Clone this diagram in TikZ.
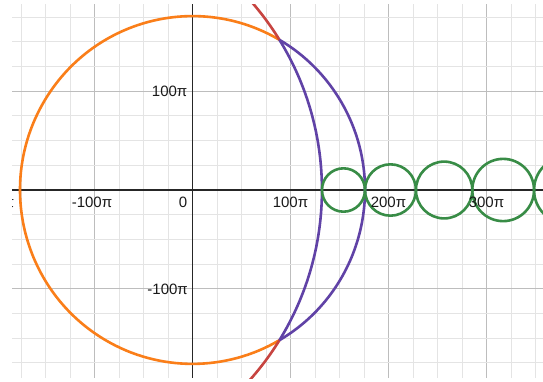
\documentclass[tikz,border=0pt]{standalone}
\usepackage{fontspec}
\setmainfont{Liberation Sans}
\definecolor{dorange}{HTML}{FA7E19}
\definecolor{dpurple}{HTML}{6042A6}
\definecolor{dred}{HTML}{C74440}
\definecolor{dgreen}{HTML}{388C46}
\definecolor{gminor}{HTML}{E4E4E4}
\definecolor{gmajor}{HTML}{BDBDBD}
\tikzset{
  minorline/.style={draw=gminor, line width=1pt},
  majorline/.style={draw=gmajor, line width=1.3pt},
  axisline/.style={draw=black!85, line width=1.5pt},
  curve/.style={line width=2.6pt},
  lbl/.style={inner sep=0pt, font=\fontsize{15}{18}\selectfont, text=black!90},
}
\begin{document}
\begin{tikzpicture}[x=1pt,y=-1pt]
\useasboundingbox (0,0) rectangle (543,381);
\fill[white] (0,0) rectangle (543,381);
\begin{scope}
\clip (12,4) rectangle (543,378);
% grid
\foreach \k in {-7,...,14} {
  \pgfmathsetmacro\xx{192.5+24.5*\k}
  \pgfmathtruncatemacro\mm{mod(\k+400,4)}
  \ifnum\mm=0 \draw[majorline] (\xx,4) -- (\xx,378); \else \draw[minorline] (\xx,4) -- (\xx,378); \fi
}
\foreach \k in {-7,...,7} {
  \pgfmathsetmacro\yy{190+24.7*\k}
  \pgfmathtruncatemacro\mm{mod(\k+400,4)}
  \ifnum\mm=0 \draw[majorline] (12,\yy) -- (543,\yy); \else \draw[minorline] (12,\yy) -- (543,\yy); \fi
}
% axes
\draw[axisline] (12,190) -- (543,190);
\draw[axisline] (192.5,4) -- (192.5,378);
% curves in math units (100 pi)
\begin{scope}[shift={(192.5,190)}, xscale=98, yscale=-98.8]
\pgfmathsetmacro\Ro{1.76}
\pgfmathsetmacro\cc{-1.56}
\pgfmathsetmacro\Ri{1.321-\cc}
\pgfmathsetmacro\ux{(\cc*\cc-\Ri*\Ri+\Ro*\Ro)/(2*\cc)}
\pgfmathsetmacro\ao{acos(\ux/\Ro)}
\pgfmathsetmacro\ai{acos((\ux-\cc)/\Ri)}
\pgfmathsetmacro\aoe{360-\ao}
\pgfmathsetmacro\aie{360-\ai}
\draw[curve, dorange] (\ao:\Ro) arc[start angle=\ao, end angle=\aoe, radius=\Ro];
\draw[curve, dred, shift={(\cc,0)}] (\ai:\Ri) arc[start angle=\ai, end angle=\aie, radius=\Ri];
\draw[curve, dpurple] (-\ao:\Ro) arc[start angle=-\ao, end angle=\ao, radius=\Ro];
\draw[curve, dpurple, shift={(\cc,0)}] (-\ai:\Ri) arc[start angle=-\ai, end angle=\ai, radius=\Ri];
\draw[curve, dgreen] (1.5405,0) circle[radius=0.2195];
\draw[curve, dgreen] (2.02,0) circle[radius=0.26];
\draw[curve, dgreen] (2.5675,0) circle[radius=0.2875];
\draw[curve, dgreen] (3.17,0) circle[radius=0.315];
\draw[curve, dgreen] (3.825,0) circle[radius=0.34];
\end{scope}
% labels
\node[lbl, anchor=base] (xm2) at (-3.5,207.5) {\llap{-}200π};
\node[lbl, anchor=base] (xm1) at (94.5,207.5) {\llap{-}100π};
\node[lbl, anchor=base east] (x0) at (187.5,207.5) {0};
\node[lbl, anchor=base] (x1) at (290.5,207.5) {100π};
\node[lbl, anchor=base] (x2) at (388.5,207.5) {200π};
\node[lbl, anchor=base] (x3) at (486.5,207.5) {300π};
\node[lbl, anchor=base east] (y1) at (187.5,96.7) {100π};
\node[lbl, anchor=base east] (ym1) at (188,294.5) {-100π};
\end{scope}
\end{tikzpicture}
\end{document}
